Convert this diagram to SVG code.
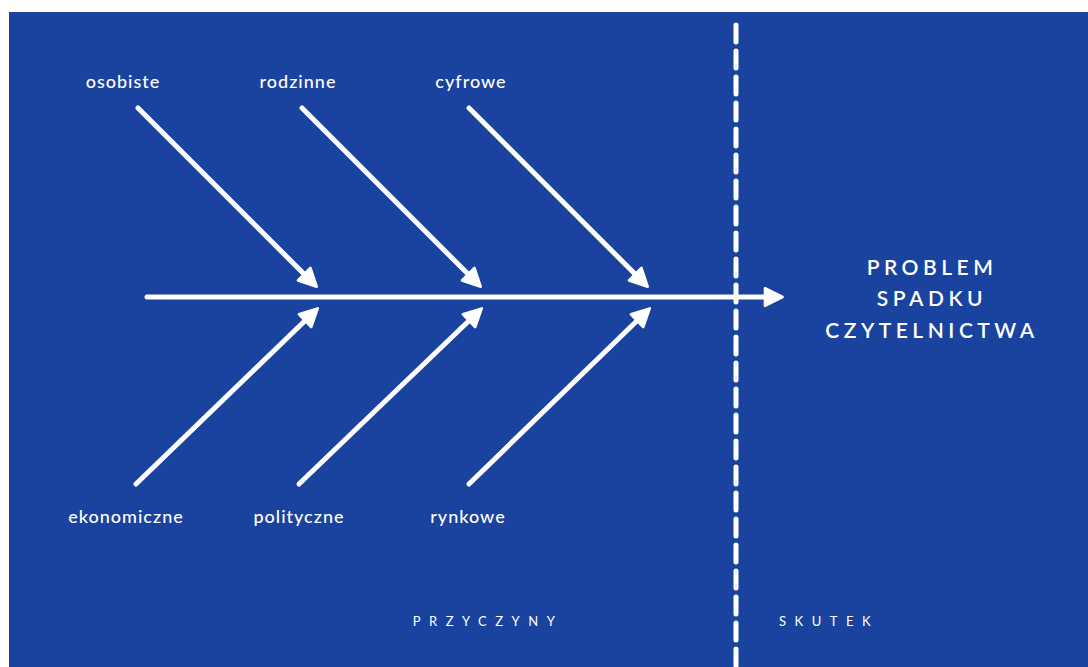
<svg xmlns="http://www.w3.org/2000/svg" width="1088" height="667" viewBox="0 0 1088 667">
<defs>
<style>
.lbl{font-family:Lato,"Liberation Sans",sans-serif;font-size:18px;fill:#ffffff;text-anchor:middle;font-weight:500;letter-spacing:1px}
.title{font-family:Lato,"Liberation Sans",sans-serif;font-size:21px;fill:#ffffff;text-anchor:middle;font-weight:600;letter-spacing:4.5px}
.sec{font-family:Lato,"Liberation Sans",sans-serif;font-size:13px;fill:#ffffff;text-anchor:middle;letter-spacing:8.5px}
.bone{stroke:#ffffff;stroke-width:5;stroke-linecap:round;fill:none;marker-end:url(#ah)}
</style>
<marker id="ah" viewBox="0 0 10 10" refX="6" refY="5" markerWidth="4.4" markerHeight="4.4" orient="auto" markerUnits="strokeWidth">
<path d="M1,1 L9,5 L1,9 Z" fill="#ffffff" stroke="#ffffff" stroke-width="1.2" stroke-linejoin="round"/>
</marker>
</defs>
<rect x="0" y="0" width="1088" height="667" fill="#ffffff"/>
<rect x="9" y="12" width="1079" height="655" fill="#1a43a0"/>
<g id="divider">
<line x1="736" y1="25" x2="736" y2="667" stroke="#ffffff" stroke-width="5" stroke-linecap="round" stroke-dasharray="17 9"/>
</g>
<g id="connectors">
<line class="bone" x1="147" y1="297" x2="776" y2="297"/>
<line class="bone" x1="138" y1="108" x2="312" y2="282"/>
<line class="bone" x1="302" y1="108" x2="476" y2="282"/>
<line class="bone" x1="469" y1="108" x2="643" y2="282"/>
<line class="bone" x1="136" y1="484" x2="313" y2="313"/>
<line class="bone" x1="299" y1="484" x2="477" y2="313"/>
<line class="bone" x1="469" y1="484" x2="645" y2="313"/>
</g>
<g id="n-osobiste"><text class="lbl" x="123" y="88">osobiste</text></g>
<g id="n-rodzinne"><text class="lbl" x="298" y="88">rodzinne</text></g>
<g id="n-cyfrowe"><text class="lbl" x="471" y="88">cyfrowe</text></g>
<g id="n-ekonomiczne"><text class="lbl" x="126" y="523">ekonomiczne</text></g>
<g id="n-polityczne"><text class="lbl" x="299" y="523">polityczne</text></g>
<g id="n-rynkowe"><text class="lbl" x="468" y="523">rynkowe</text></g>
<g id="n-problem">
<text class="title" x="932" y="275">PROBLEM</text>
<text class="title" x="932" y="306">SPADKU</text>
<text class="title" x="932" y="338">CZYTELNICTWA</text>
</g>
<g id="n-przyczyny"><text class="sec" x="488" y="626">PRZYCZYNY</text></g>
<g id="n-skutek"><text class="sec" x="829" y="626">SKUTEK</text></g>
</svg>
